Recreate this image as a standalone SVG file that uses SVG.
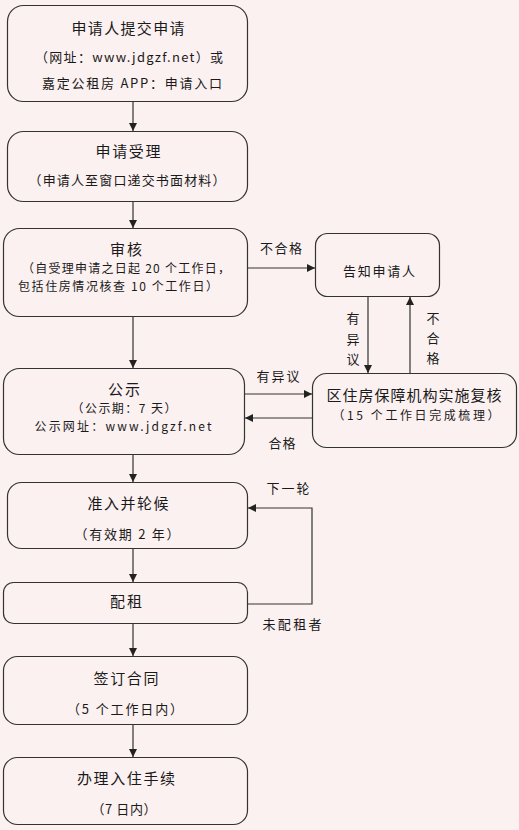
<svg xmlns="http://www.w3.org/2000/svg" width="519" height="830" viewBox="0 0 519 830">
<defs>
<style>
.bx{fill:#fcf1f1;stroke:#333;stroke-width:1.2}
.ln{fill:none;stroke:#333;stroke-width:1.2}
text{font-family:"Noto Sans CJK SC","Noto Sans CJK JP",sans-serif;fill:#1a1a1a;dominant-baseline:central;text-anchor:middle}
.t{font-size:15px}
.s{font-size:13px}
.x{font-size:12px}
.l{font-size:15px}
</style>
<marker id="ah" viewBox="0 0 10 10" refX="10" refY="5" markerWidth="8" markerHeight="8" markerUnits="userSpaceOnUse" orient="auto">
<path d="M0,0 L10,5 L0,10 z" fill="#222"/>
</marker>
</defs>
<rect x="0" y="0" width="519" height="830" fill="#fcf1f1"/>

<g id="n1">
<rect class="bx" x="7.5" y="5.5" width="240" height="96" rx="16"/>
<text class="t" x="128" y="27" textLength="113" lengthAdjust="spacing">申请人提交申请</text>
<text class="s" x="129" y="56" textLength="188" lengthAdjust="spacing">（网址：www.jdgzf.net）或</text>
<text class="s" x="132" y="82" textLength="180" lengthAdjust="spacing">嘉定公租房 APP：申请入口</text>
</g>

<g id="n2">
<rect class="bx" x="7.5" y="131.5" width="240" height="70" rx="16"/>
<text class="t" x="128" y="150" textLength="65" lengthAdjust="spacing">申请受理</text>
<text class="s" x="127" y="179" textLength="197" lengthAdjust="spacing">（申请人至窗口递交书面材料）</text>
</g>

<g id="n3">
<rect class="bx" x="3.5" y="228.5" width="244" height="88" rx="16"/>
<text class="t" x="126" y="248" textLength="32" lengthAdjust="spacing">审核</text>
<text class="x" x="126" y="267" textLength="208" lengthAdjust="spacing">（自受理申请之日起 20 个工作日，</text>
<text class="x" x="118" y="285" textLength="200" lengthAdjust="spacing">包括住房情况核查 10 个工作日）</text>
</g>

<g id="n4">
<rect class="bx" x="315.5" y="233.5" width="124" height="63" rx="12"/>
<text class="s" x="379" y="270" textLength="72" lengthAdjust="spacing">告知申请人</text>
</g>

<g id="n5">
<rect class="bx" x="3.5" y="368.5" width="241" height="86" rx="16"/>
<text class="t" x="124" y="388" textLength="32" lengthAdjust="spacing">公示</text>
<text class="x" x="124" y="407" textLength="105" lengthAdjust="spacing">（公示期：7 天）</text>
<text class="x" x="123" y="425" textLength="177" lengthAdjust="spacing">公示网址：www.jdgzf.net</text>
</g>

<g id="n6">
<rect class="bx" x="312.5" y="373.5" width="204" height="74" rx="14"/>
<text class="l" x="414" y="394" textLength="175" lengthAdjust="spacing">区住房保障机构实施复核</text>
<text class="x" x="416" y="414" textLength="167" lengthAdjust="spacing">（15 个工作日完成梳理）</text>
</g>

<g id="n7">
<rect class="bx" x="7.5" y="482.5" width="240" height="66" rx="14"/>
<text class="t" x="128" y="502" textLength="81" lengthAdjust="spacing">准入并轮候</text>
<text class="s" x="127" y="533" textLength="105" lengthAdjust="spacing">（有效期 2 年）</text>
</g>

<g id="n8">
<rect class="bx" x="3.5" y="582.5" width="244" height="41" rx="10"/>
<text class="t" x="126" y="600" textLength="32" lengthAdjust="spacing">配租</text>
</g>

<g id="n9">
<rect class="bx" x="3.5" y="656.5" width="244" height="68" rx="14"/>
<text class="t" x="126" y="677" textLength="65" lengthAdjust="spacing">签订合同</text>
<text class="s" x="125" y="708" textLength="116" lengthAdjust="spacing">（5 个工作日内）</text>
</g>

<g id="n10">
<rect class="bx" x="3.5" y="757.5" width="244" height="67" rx="14"/>
<text class="t" x="126" y="777" textLength="98" lengthAdjust="spacing">办理入住手续</text>
<text class="s" x="124" y="808" textLength="65" lengthAdjust="spacing">（7 日内）</text>
</g>

<g id="connectors">
<line class="ln" x1="133" y1="102" x2="133" y2="131" marker-end="url(#ah)"/>
<line class="ln" x1="133" y1="202" x2="133" y2="228" marker-end="url(#ah)"/>
<line class="ln" x1="248" y1="268" x2="315" y2="268" marker-end="url(#ah)"/>
<line class="ln" x1="133" y1="317" x2="133" y2="368" marker-end="url(#ah)"/>
<line class="ln" x1="368" y1="297" x2="368" y2="373" marker-end="url(#ah)"/>
<line class="ln" x1="410" y1="373" x2="410" y2="297" marker-end="url(#ah)"/>
<line class="ln" x1="245" y1="394" x2="312" y2="394" marker-end="url(#ah)"/>
<line class="ln" x1="312" y1="418" x2="245" y2="418" marker-end="url(#ah)"/>
<line class="ln" x1="133" y1="455" x2="133" y2="482" marker-end="url(#ah)"/>
<line class="ln" x1="133" y1="549" x2="133" y2="582" marker-end="url(#ah)"/>
<polyline class="ln" points="248,604 312,604 312,508 248,508" marker-end="url(#ah)"/>
<line class="ln" x1="133" y1="624" x2="133" y2="656" marker-end="url(#ah)"/>
<line class="ln" x1="133" y1="725" x2="133" y2="757" marker-end="url(#ah)"/>
<text class="s" x="281" y="247" textLength="42" lengthAdjust="spacing">不合格</text>
<text class="s" x="353" y="317">有</text>
<text class="s" x="353" y="338">异</text>
<text class="s" x="353" y="358">议</text>
<text class="s" x="433" y="317">不</text>
<text class="s" x="433" y="337">合</text>
<text class="s" x="433" y="357">格</text>
<text class="s" x="278" y="375" textLength="43" lengthAdjust="spacing">有异议</text>
<text class="s" x="282" y="442" textLength="27" lengthAdjust="spacing">合格</text>
<text class="s" x="288" y="487" textLength="43" lengthAdjust="spacing">下一轮</text>
<text class="s" x="292" y="623" textLength="59" lengthAdjust="spacing">未配租者</text>
</g>
</svg>
